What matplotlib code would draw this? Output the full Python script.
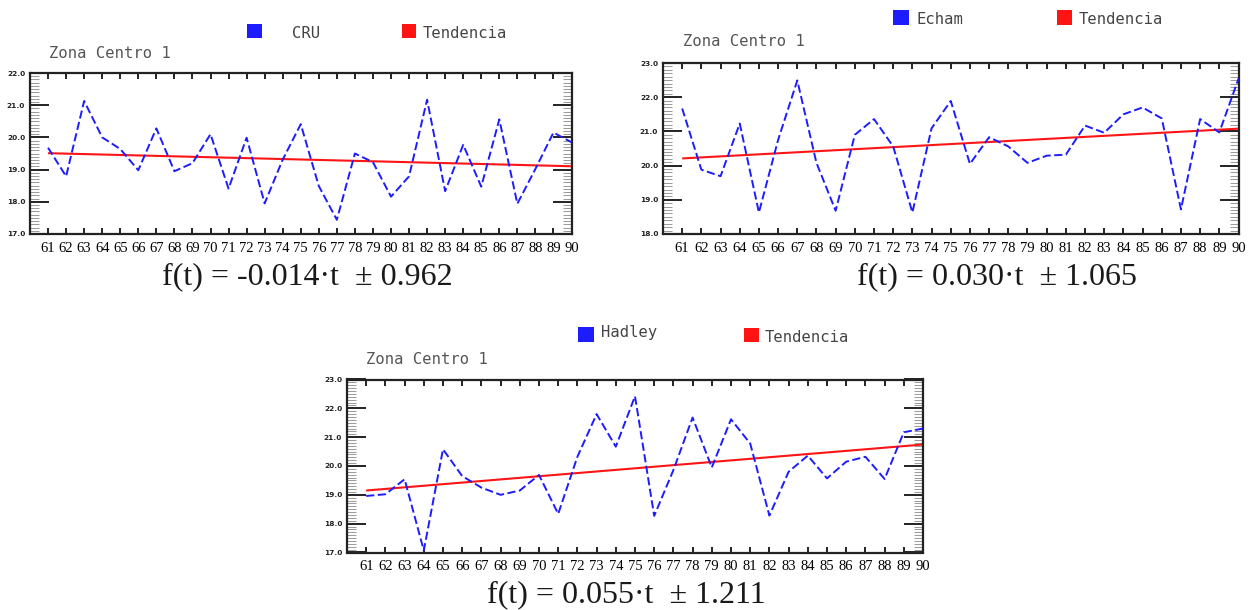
import matplotlib
matplotlib.use("Agg")
import matplotlib.pyplot as plt
from matplotlib.patches import Rectangle
from matplotlib.ticker import MultipleLocator, FormatStrFormatter, NullLocator

W, H = 1254, 610
DPI = 100

# ---- data -------------------------------------------------------------
years = list(range(61, 91))

cru = [19.68, 18.79, 21.13, 20.00, 19.64, 18.98, 20.28, 18.95, 19.20, 20.10,
       18.41, 19.99, 17.95, 19.31, 20.41, 18.49, 17.44, 19.50, 19.23, 18.16,
       18.79, 21.17, 18.33, 19.77, 18.47, 20.56, 17.94, 19.02, 20.15, 19.85]

echam = [21.67, 19.88, 19.69, 21.23, 18.63, 20.75, 22.49, 20.08, 18.68, 20.90,
         21.36, 20.56, 18.63, 21.09, 21.89, 20.05, 20.83, 20.56, 20.08, 20.29,
         20.32, 21.17, 20.96, 21.50, 21.70, 21.38, 18.72, 21.36, 20.97, 22.54]

hadley = [18.96, 19.02, 19.54, 17.07, 20.58, 19.65, 19.25, 19.00, 19.15, 19.69,
          18.34, 20.32, 21.80, 20.67, 22.42, 18.27, 19.86, 21.68, 19.95, 21.62,
          20.78, 18.28, 19.80, 20.36, 19.57, 20.15, 20.32, 19.55, 21.17, 21.30]

series_names = ["CRU", "Echam", "Hadley"]
trend_slopes = [-0.014, 0.030, 0.055]
trend_start = [19.51, 20.21, 19.15]   # trend value at year 61
trend_spread = [0.962, 1.065, 1.211]
y_limits = [(17.0, 22.0), (18.0, 23.0), (17.0, 23.0)]
title_text = "Zona Centro 1"
trend_label = "Tendencia"

BLUE = "#1c1cff"
RED = "#ff1414"
MONO = "DejaVu Sans Mono"
SERIF = "Liberation Serif"

fig = plt.figure(figsize=(W / DPI, H / DPI), dpi=DPI)
fig.patch.set_facecolor("white")


def fx(x):
    return x / W


def fy(y):
    return 1 - y / H


def add_axes_px(left, top, right, bottom):
    return fig.add_axes([fx(left), fy(bottom), (right - left) / W, (bottom - top) / H])


def legend_square(x0, y0, x1, y1, color):
    fig.patches.append(Rectangle((fx(x0), fy(y1)), (x1 - x0) / W, (y1 - y0) / H,
                                 transform=fig.transFigure, facecolor=color,
                                 edgecolor=color, lw=0))


def draw_panel(ax, values, slope, start, ylim):
    trend = [start + slope * (t - years[0]) for t in years]
    ax.plot(years, trend, color=RED, lw=1.5, solid_capstyle="butt", zorder=2)
    ax.plot(years, values, color=BLUE, lw=1.4, dashes=(4.2, 1.8), zorder=3)
    ax.set_xlim(60, 90)
    ax.set_ylim(*ylim)
    ax.set_xticks(years)
    ax.set_xticklabels([str(t) for t in years], fontfamily=SERIF, fontsize=10.5)
    ax.xaxis.set_minor_locator(NullLocator())
    ax.yaxis.set_major_locator(MultipleLocator(1.0))
    ax.yaxis.set_minor_locator(MultipleLocator(0.1))
    ax.yaxis.set_major_formatter(FormatStrFormatter("%.1f"))
    for lab in ax.get_yticklabels():
        lab.set_fontsize(5.3)
        lab.set_fontweight("bold")
        lab.set_color("#222222")
    ax.tick_params(axis="x", which="major", direction="in", length=4.5, width=1.4,
                   color="#222222", top=True, bottom=True, pad=5.5)
    ax.tick_params(axis="y", which="major", direction="in", length=13.5, width=1.4,
                   color="#222222", left=True, right=True, pad=3.5)
    ax.tick_params(axis="y", which="minor", direction="in", length=6.8, width=0.75,
                   color="#9c9c9c", left=True, right=True)
    for sp in ax.spines.values():
        sp.set_linewidth(1.6)
        sp.set_color("#222222")
    ax.set_facecolor("white")


# panel placement in pixels: axes box, legend, title, formula
panels = [
    dict(values=cru, box=(30, 73, 571.5, 234),
         sq1=(247, 24, 262, 38), name_x=292, leg_y=33,
         sq2=(402, 24, 416, 38), trend_x=423, trend_y=33,
         title=(49, 54), formula=(307, 277)),
    dict(values=echam, box=(663, 63, 1238.5, 234),
         sq1=(893, 10, 909, 25), name_x=916, leg_y=19,
         sq2=(1057, 10, 1072, 25), trend_x=1079, trend_y=19,
         title=(683, 42), formula=(997, 277)),
    dict(values=hadley, box=(347, 379.5, 923, 552.5),
         sq1=(578, 327, 594, 342), name_x=601, leg_y=333,
         sq2=(744, 328, 759, 342), trend_x=765, trend_y=337,
         title=(366, 359), formula=(626, 595)),
]

for i, p in enumerate(panels):
    ax = add_axes_px(*p["box"])
    draw_panel(ax, p["values"], trend_slopes[i], trend_start[i], y_limits[i])

    legend_square(*p["sq1"], BLUE)
    legend_square(*p["sq2"], RED)
    fig.text(fx(p["name_x"]), fy(p["leg_y"]), series_names[i], family=MONO,
             fontsize=11.2, color="#444444", ha="left", va="center")
    fig.text(fx(p["trend_x"]), fy(p["trend_y"]), trend_label, family=MONO,
             fontsize=11.2, color="#444444", ha="left", va="center")
    fig.text(fx(p["title"][0]), fy(p["title"][1]), title_text, family=MONO,
             fontsize=11.2, color="#555555", ha="left", va="center")

    formula = f"f(t) = {trend_slopes[i]:.3f}\u00b7t  \u00b1 {trend_spread[i]:.3f}"
    fig.text(fx(p["formula"][0]), fy(p["formula"][1]), formula, family=SERIF,
             fontsize=23, color="#1a1a1a", ha="center", va="center")

fig.savefig("out.png", dpi=DPI, facecolor="white")
